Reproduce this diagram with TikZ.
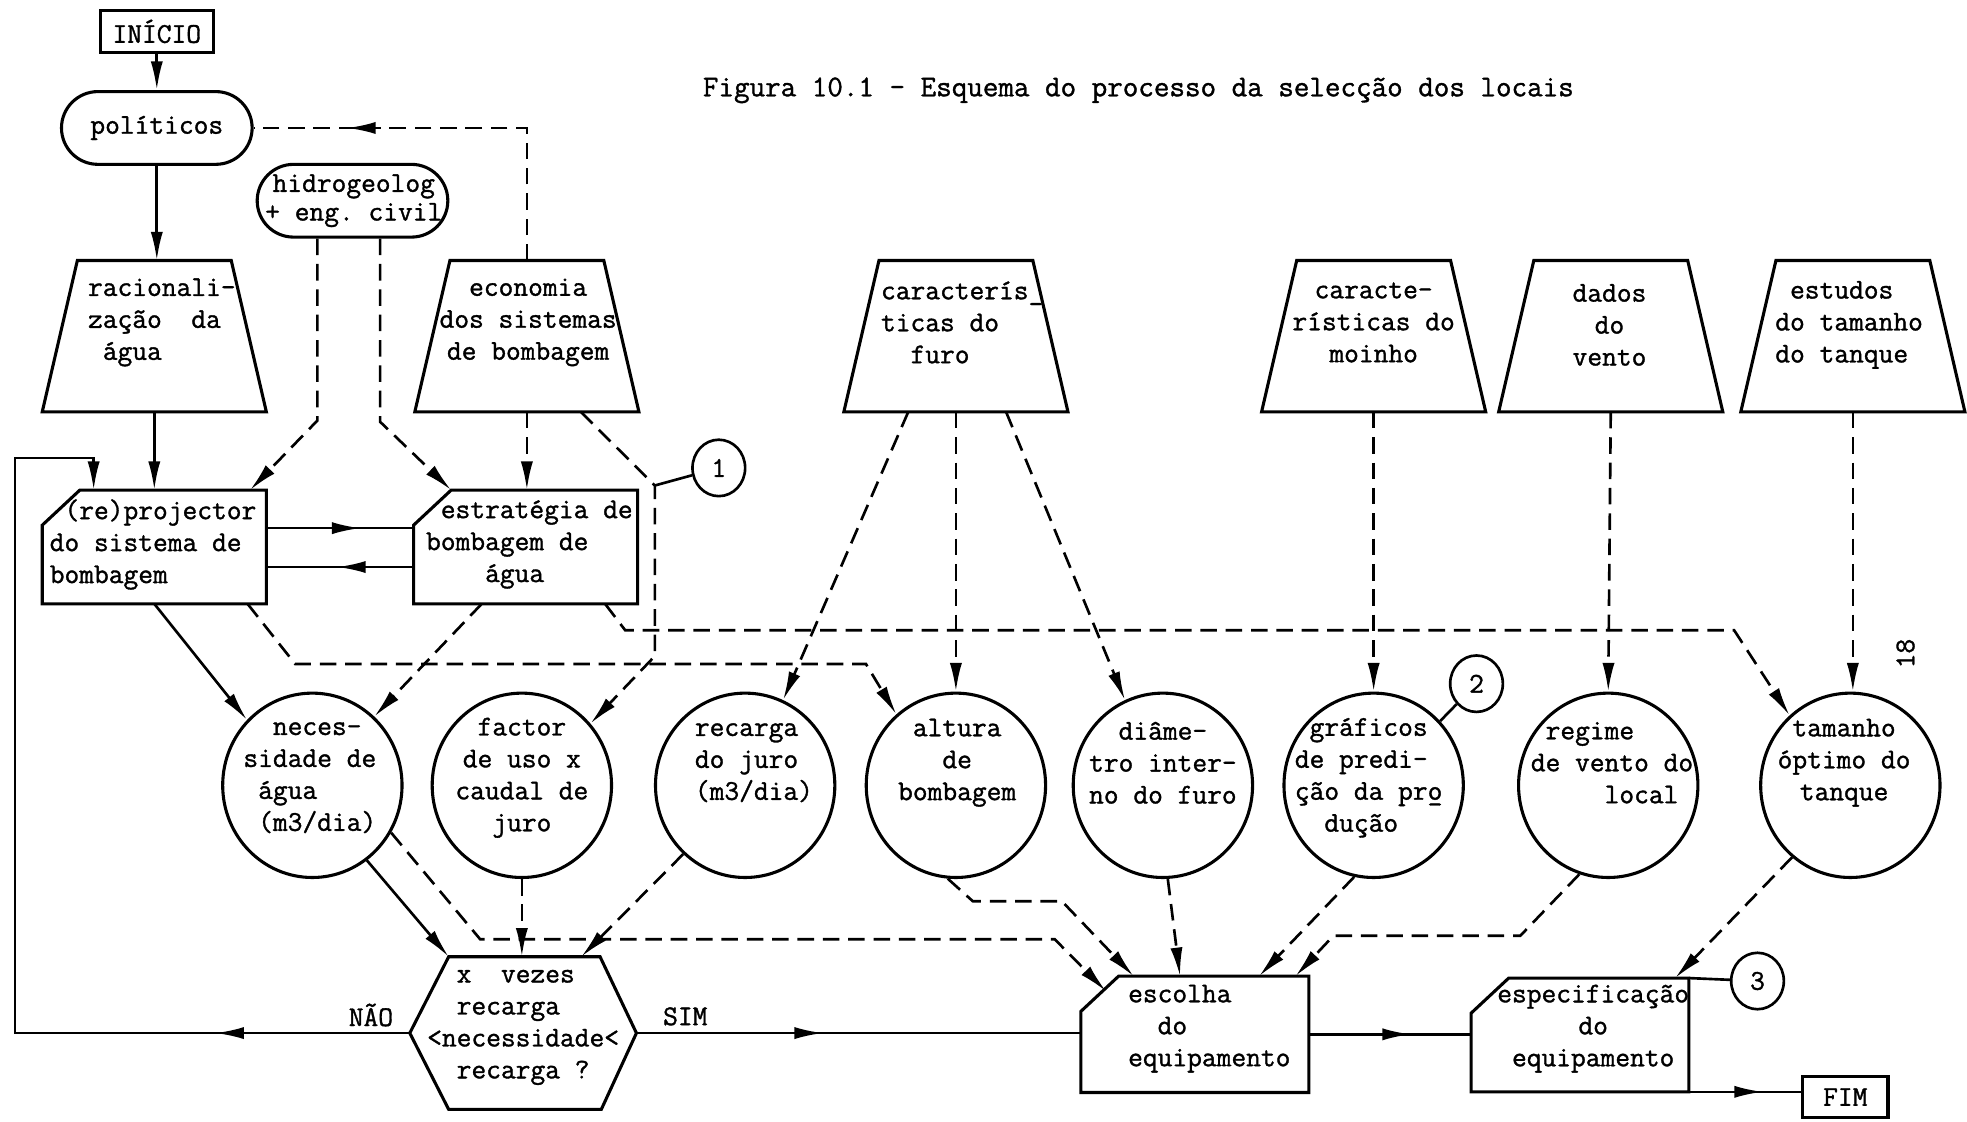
\documentclass[tikz,border=0pt]{standalone}
\usepackage{fontspec}
\setmonofont[FakeBold=1.2]{Latin Modern Mono}
\usepackage{tikz}
\usetikzlibrary{shapes.geometric,shapes.misc,arrows.meta,decorations.markings,calc}

\begin{document}
\begin{tikzpicture}[
     x=0.02cm, y=-0.02cm,
     % define styles
     txt/.style={
         font=\fontsize{13}{14.5}\selectfont\ttfamily,
         align=center,
         inner sep=0pt
     },
     outline/.style={line width=1.4pt, line join=miter},
     flow/.style={line width=1.2pt},
     dline/.style={line width=1.2pt, dash pattern=on 7.5pt off 4pt},
     midarrow/.style={
         postaction={decorate},
         decoration={markings, mark=at position #1 with {\arrow{>}}}
     },
     tray/.style={rectangle, minimum width=3.56cm, minimum height=2.4cm, inner sep=0pt},
     card/.style={rectangle, minimum width=3.56cm, minimum height=1.8cm, inner sep=0pt},
     disc/.style={ellipse, draw, outline, minimum width=2.86cm, minimum height=2.94cm, inner sep=0pt},
     pill/.style={rounded rectangle, draw, outline, minimum width=3.04cm, minimum height=1.16cm, inner sep=0pt},
     numtag/.style={ellipse, draw, flow, txt, minimum width=0.84cm, minimum height=0.9cm},
     >={Latex[length=13pt,width=5.5pt]}
]
\path[fill=white, use as bounding box] (0,0) rectangle (1568,894);

% title and page number
\node[txt, anchor=west, font=\fontsize{13.7}{15}\selectfont\ttfamily] (title) at (560,72)
    {Figura 10.1 - Esquema do processo da selecção dos locais};
\node[txt, rotate=90] (pg) at (1519,521) {18};

% start, end and rounded boxes
\node[draw, outline, txt, minimum width=1.8cm, minimum height=0.68cm] (start) at (125,25) {INÍCIO};
\node[draw, outline, txt, minimum width=1.36cm, minimum height=0.66cm] (fim) at (1471,874.5) {FIM};
\node[pill] (pol) at (125,102) {};
\node[txt] (polT) at (pol) {políticos};
\node[pill] (hid) at (281,160) {};
\node[txt] (hidT) at (282,160) {hidrogeolog\\[-1.5pt]+ eng. civil};

% input trapezia
\foreach \n/\x in {rac/123, eco/420, fur/762, moi/1095, ven/1284, tnq/1477}
  \node[tray] (\n) at (\x,268) {};
\foreach \n in {rac,eco,fur,moi,ven,tnq}
  \draw[outline] (\n.south west) -- ([xshift=0.56cm]\n.north west)
      -- ([xshift=-0.56cm]\n.north east) -- (\n.south east) -- cycle;
\node[txt, align=left] (racT) at (129,257) {racionali-\\zação~~da\\\phantom{x}água};
\node[txt] (ecoT) at (421,257) {economia\\dos sistemas\\de bombagem};
\node[txt, align=left] (furT) at (767,257) {caracterís\_\\ticas do\\\phantom{xx}furo};
\node[txt] (moiT) at (1095,257) {caracte-\\rísticas do\\moinho};
\node[txt] (venT) at (1283,259) {dados\\do\\vento};
\node[txt, align=left] (tnqT) at (1474,259) {\phantom{x}estudos\\do tamanho\\do tanque};

% boxes with cut corner
\node[card] (proj) at (123,436) {};
\node[card] (est) at (419,436) {};
\node[card, minimum width=3.62cm, minimum height=1.84cm] (esc) at (952.5,824.5) {};
\node[card, minimum width=3.46cm] (spe) at (1259.5,825) {};
\foreach \n in {proj,est,esc,spe}
  \draw[outline] ([yshift=-0.56cm]\n.north west) -- ([xshift=0.6cm]\n.north west)
      -- (\n.north east) -- (\n.south east) -- (\n.south west) -- cycle;
\node[txt, align=left] (projT) at (122,434) {\phantom{x}(re)projector\\do sistema de\\bombagem};
\node[txt, align=left] (estT) at (422,434) {\phantom{x}estratégia de\\bombagem de\\\phantom{xxxx}água};
\node[txt, align=left] (escT) at (964,820) {escolha\\\phantom{xx}do\\equipamento};
\node[txt] (speT) at (1270,820) {especificação\\do\\equipamento};

% decision
\node[rectangle, minimum width=3.6cm, minimum height=2.42cm, inner sep=0pt] (dec) at (417,823.5) {};
\draw[outline] (dec.west) -- ([xshift=0.62cm]dec.north west) -- ([xshift=-0.58cm]dec.north east)
    -- (dec.east) -- ([xshift=-0.56cm]dec.south east) -- ([xshift=0.62cm]dec.south west) -- cycle;
\node[txt, align=left] (decT) at (417,819)
    {\phantom{xx}x~~vezes\\\phantom{xx}recarga\\<necessidade<\\\phantom{xx}recarga ?};

% results
\foreach \n/\x in {nec/249, fac/416, rec/594, alt/762, dia/927, gra/1095, reg/1282, tam/1475}
  \node[disc] (\n) at (\x,626) {};
\node[txt, align=left] (necT) at (247,620) {\phantom{xx}neces-\\sidade de\\\phantom{x}água\\\phantom{x}(m3/dia)};
\node[txt] (facT) at (416,620) {factor\\de uso x\\caudal de\\juro};
\node[txt, align=left] (recT) at (601,608) {recarga\\do juro\\(m3/dia)};
\node[txt] (altT) at (763,608) {altura\\de\\bombagem};
\node[txt] (diaT) at (927,608) {diâme-\\tro inter-\\no do furo};
\node[txt, align=left] (graT) at (1091,620) {\phantom{x}gráficos\\de predi-\\ção da pr\rlap{\_}o\\\phantom{xx}dução};
\node[txt, align=left] (regT) at (1285,608) {\phantom{x}regime\\de vento do\\\phantom{xxxxx}local};
\node[txt] (tamT) at (1470,608) {tamanho\\óptimo do\\tanque};

% numbered marks
\node[numtag] (n1) at (573,373) {1};
\node[numtag] (n2) at (1177,545) {2};
\node[numtag] (n3) at (1401,782) {3};
\coordinate (k1) at (522,387);
\coordinate (loop) at (12,365);

% solid flow
\draw[flow,->] (start) -- (pol);
\draw[flow,->] (pol.south) -- (pol.south |- rac.north);
\draw[flow,->] (rac.south) -- (rac.south |- proj.north);
\draw[flow,midarrow=0.64] ([yshift=0.3cm]proj.east) -- ([yshift=0.3cm]proj.east -| est.west);
\draw[flow,midarrow=0.52] ([yshift=-0.32cm]est.west) -- ([yshift=-0.32cm]est.west -| proj.east);
\draw[flow,->] (proj.south) -- (nec.135);
\draw[flow,->] (nec.-54) -- ([xshift=0.62cm]dec.north west);
\draw[flow,->,midarrow=0.18] (dec.west) -| (loop) -| ([xshift=0.82cm]proj.north west);
\node[txt, anchor=south east] (nao) at ([shift={(-0.26cm,0.1cm)}]dec.west) {NÃO};
\draw[flow,midarrow=0.42] (dec.east) -- node[txt, pos=0.11, above=0.1cm] (sim) {SIM} (dec.east -| esc.west);
\draw[flow,midarrow=0.63] (esc.east) -- (esc.east -| spe.west);
\draw[flow,midarrow=0.66] (spe.south east) -- (spe.south east -| fim.west);
\draw[flow] (spe.north east) -- (n3);
\draw[flow] (n2) -- (gra.44);
\draw[flow] (n1) -- (k1);

% dashed influences
\draw[dline,midarrow=0.77] (eco.north) |- (pol.east);
\draw[dline,->] ([xshift=-0.56cm]hid.south) -- ++(0,145) -- ([xshift=-0.26cm]proj.north east);
\draw[dline,->] ([xshift=0.44cm]hid.south) -- ++(0,146) -- ([xshift=0.6cm]est.north west);
\draw[dline,->] (eco.south) -- (eco.south |- est.north);
\draw[dline,->] ([xshift=0.86cm]eco.south) -- (k1) -- ++(0,136) -- (fac.42);
\draw[dline,->] ([xshift=-0.7cm]est.south) -- (nec.48);
\draw[dline,->] ([xshift=-0.3cm]proj.south east) -- ++(38,48) -- ++(455,0) -- (alt.130);
\draw[dline,->] ([xshift=-0.52cm]est.south east) -- ++(16,21) -- ++(884,0) -- (tam.131);
\draw[dline,->] ([xshift=-0.76cm]fur.south) -- (rec.66);
\draw[dline,->] (fur.south) -- (alt.north);
\draw[dline,->] ([xshift=0.8cm]fur.south) -- (dia.114);
\draw[dline,->] (moi.south) -- (gra.north);
\draw[dline,->] (ven.south) -- (reg.north);
\draw[dline,->] (tnq.south) -- (tnq.south |- tam.north);
\draw[dline,->] (fac.south) -- (fac.south |- dec.north);
\draw[dline,->] (rec.228) -- ([xshift=-0.88cm]dec.north east);
\draw[dline,->] (nec.-31) -- ++(71,85) -- ++(458,0) -- ([shift={(0.4cm,-0.24cm)}]esc.north west);
\draw[dline,->] (alt.-95) -- ++(20,18) -- ++(71,0) -- ([xshift=0.84cm]esc.north west);
\draw[dline,->] (dia.-87) -- ([xshift=1.58cm]esc.north west);
\draw[dline,->] (gra.-102) -- ([xshift=2.84cm]esc.north west);
\draw[dline,->] (reg.-108) -- ++(-47,49) -- ++(-149,0) -- ([xshift=3.42cm]esc.north west);
\draw[dline,->] (tam.-129) -- ([xshift=-0.22cm]spe.north east);

\end{tikzpicture}
\end{document}
